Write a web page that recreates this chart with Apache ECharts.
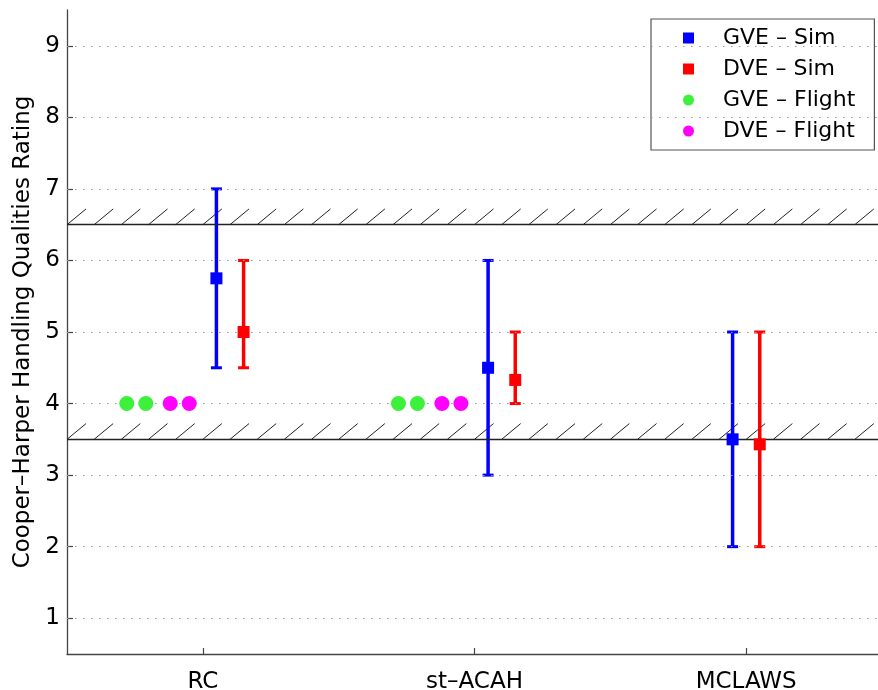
<!DOCTYPE html>
<html><head><meta charset="utf-8">
<script src="https://cdn.jsdelivr.net/npm/echarts@6/dist/echarts.min.js"></script>
<style>html,body{margin:0;padding:0;background:#fff}#c{width:878px;height:690px}</style>
</head><body><div id="c"></div>
<script>
// ---- data ----
const categories = ['RC', 'st–ACAH', 'MCLAWS'];
const xTicks = [1, 2, 3];
const yTicks = [1, 2, 3, 4, 5, 6, 7, 8, 9];
const gveSimMean = [5.75, 4.5, 3.5];
const gveSimLow = [4.5, 3, 2];
const gveSimHigh = [7, 6, 5];
const dveSimMean = [5, 4.33, 3.43];
const dveSimLow = [4.5, 4, 2];
const dveSimHigh = [6, 5, 5];
const gveFlight = [[4, 4], [4, 4], []];
const dveFlight = [[4, 4], [4, 4], []];
const levelBoundaries = [3.5, 6.5];

// ---- layout (x offsets within a category, in axis units) ----
const gveSimOffset = [0.05, 0.05, -0.05];
const dveSimOffset = [0.15, 0.15, 0.05];
const gveFlightOffset = [-0.28, -0.21];
const dveFlightOffset = [-0.12, -0.05];

const FONT = 'DejaVu Sans';
const BLUE = '#0000ff', RED = '#ff0000', GREEN = '#3cf03c', MAGENTA = '#ff00ff';

const simPoints = (mean, off) => mean.map((m, i) => [xTicks[i] + off[i], m]);
const simBars = (lo, hi, off) => lo.map((l, i) => [xTicks[i] + off[i], l, hi[i]]);
const flightPoints = (arr, off) => {
  const out = [];
  arr.forEach((vals, i) => vals.forEach((v, j) => out.push([xTicks[i] + off[j], v])));
  return out;
};
const hatchData = [];
levelBoundaries.forEach(level => {
  for (let k = 0; k < 30; k++) hatchData.push([(5 + k) / 10, level]);
});

function errorBar(color) {
  return function (params, api) {
    const x = api.value(0);
    const pLo = api.coord([x, api.value(1)]);
    const pHi = api.coord([x, api.value(2)]);
    const hw = 5.5;
    const st = { stroke: color, lineWidth: 3.5 };
    return {
      type: 'group',
      children: [
        { type: 'line', shape: { x1: pLo[0], y1: pLo[1], x2: pHi[0], y2: pHi[1] }, style: st },
        { type: 'line', shape: { x1: pLo[0] - hw, y1: pLo[1], x2: pLo[0] + hw, y2: pLo[1] }, style: { stroke: color, lineWidth: 3 } },
        { type: 'line', shape: { x1: pHi[0] - hw, y1: pHi[1], x2: pHi[0] + hw, y2: pHi[1] }, style: { stroke: color, lineWidth: 3 } }
      ]
    };
  };
}

const chart = echarts.init(document.getElementById('c'), null, { renderer: 'canvas' });
chart.setOption({
  animation: false,
  backgroundColor: '#fff',
  grid: { left: 67, right: -4, top: 10, bottom: 36, containLabel: false, outerBoundsMode: 'none' },
  xAxis: {
    type: 'value', min: 0.5, max: 3.5,
    axisLine: { show: true, onZero: false, lineStyle: { color: '#444', width: 1.3 } },
    axisTick: { show: true, inside: true, length: 6, customValues: xTicks, lineStyle: { color: '#444', width: 1.2 } },
    axisLabel: { customValues: xTicks, formatter: v => categories[Math.round(v) - 1], margin: 17,
      fontSize: 23, fontFamily: FONT, color: '#000' },
    splitLine: { show: false }
  },
  yAxis: {
    type: 'value', min: 0.5, max: 9.5,
    name: 'Cooper–Harper Handling Qualities Rating', nameLocation: 'middle', nameGap: 31,
    nameTextStyle: { fontSize: 23, fontFamily: FONT, color: '#000' },
    axisLine: { show: true, onZero: false, lineStyle: { color: '#444', width: 1.3 } },
    axisTick: { show: true, inside: true, length: 6, customValues: yTicks, lineStyle: { color: '#444', width: 1.2 } },
    axisLabel: { customValues: yTicks, margin: 7, fontSize: 23, fontFamily: FONT, color: '#000' },
    splitLine: { show: false }
  },
  legend: {
    left: 651, top: 19, orient: 'vertical',
    padding: [7, 19, 7, 32], itemGap: 7, itemWidth: 11, itemHeight: 11,
    borderColor: '#555', borderWidth: 1.2, backgroundColor: '#fff',
    textStyle: { fontSize: 22, fontFamily: FONT, color: '#000', lineHeight: 24, padding: [0, 0, 0, 24] },
    data: [
      { name: 'GVE – Sim', icon: 'rect' },
      { name: 'DVE – Sim', icon: 'rect' },
      { name: 'GVE – Flight', icon: 'circle' },
      { name: 'DVE – Flight', icon: 'circle' }
    ]
  },
  series: [
    {
      name: 'GVE – Sim', type: 'scatter', symbol: 'rect', symbolSize: 12, z: 5,
      itemStyle: { color: BLUE, opacity: 1 }, data: simPoints(gveSimMean, gveSimOffset)
    },
    {
      name: 'DVE – Sim', type: 'scatter', symbol: 'rect', symbolSize: 12, z: 5,
      itemStyle: { color: RED, opacity: 1 }, data: simPoints(dveSimMean, dveSimOffset)
    },
    {
      name: 'GVE – Flight', type: 'scatter', symbol: 'circle', symbolSize: 15, z: 5,
      itemStyle: { color: GREEN, opacity: 1 }, data: flightPoints(gveFlight, gveFlightOffset)
    },
    {
      name: 'DVE – Flight', type: 'scatter', symbol: 'circle', symbolSize: 15, z: 5,
      itemStyle: { color: MAGENTA, opacity: 1 }, data: flightPoints(dveFlight, dveFlightOffset)
    },
    {
      name: 'GVE – Sim', type: 'custom', z: 4, silent: true,
      itemStyle: { color: BLUE },
      renderItem: errorBar(BLUE), encode: { x: 0, y: [1, 2] },
      data: simBars(gveSimLow, gveSimHigh, gveSimOffset)
    },
    {
      name: 'DVE – Sim', type: 'custom', z: 4, silent: true,
      itemStyle: { color: RED },
      renderItem: errorBar(RED), encode: { x: 0, y: [1, 2] },
      data: simBars(dveSimLow, dveSimHigh, dveSimOffset)
    },
    {
      name: 'hatch', type: 'custom', z: 3, silent: true, clip: true,
      renderItem: function (params, api) {
        const x = api.value(0), y = api.value(1);
        const p0 = api.coord([x, y]);
        const p1 = api.coord([x + 0.07, y + 0.22]);
        return { type: 'line', shape: { x1: p0[0], y1: p0[1], x2: p1[0], y2: p1[1] },
          style: { stroke: '#222', lineWidth: 1 } };
      },
      encode: { x: 0, y: 1 },
      data: hatchData,
      markLine: {
        silent: true, symbol: 'none', label: { show: false },
        lineStyle: { color: '#222', width: 1.3, type: 'solid' },
        data: levelBoundaries.map(v => ({ yAxis: v }))
      }
    },
    {
      name: 'grid', type: 'line', z: 1, silent: true, data: [],
      markLine: {
        silent: true, symbol: 'none', label: { show: false },
        lineStyle: { color: '#999', width: 1, type: [1.5, 6.5] },
        data: yTicks.map(v => ({ yAxis: v }))
      }
    }
  ]
});
</script>
</body></html>
